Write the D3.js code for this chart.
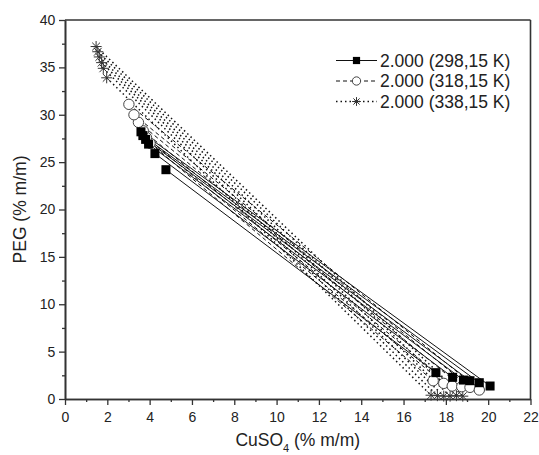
<!DOCTYPE html>
<html>
<head>
<meta charset="utf-8">
<script src="https://cdn.jsdelivr.net/npm/d3@7/dist/d3.min.js"></script>
<style>
  html, body { margin: 0; padding: 0; background: #fff; }
  svg { display: block; font-family: Arial, "Liberation Sans", sans-serif; }
</style>
</head>
<body>
<svg id="chart" width="539" height="455"></svg>
<script>
// ---- Data ----
const seriesNames = ["2.000 (298,15 K)", "2.000 (318,15 K)", "2.000 (338,15 K)"];
// 298,15 K tie lines: top phase (CuSO4, PEG) and bottom phase (CuSO4, PEG)
const top298 = [[4.77, 24.2], [4.25, 25.9], [3.95, 26.9], [3.81, 27.4], [3.68, 27.8], [3.59, 28.2]];
const bot298 = [[17.53, 2.78], [18.32, 2.29], [18.83, 2.0], [19.14, 1.93], [19.58, 1.72], [20.09, 1.37]];
// 318,15 K
const top318 = [[4.02, 27.0], [3.85, 27.6], [3.70, 28.3], [3.47, 29.2], [3.26, 30.0], [3.02, 31.1]];
const bot318 = [[17.4, 1.93], [17.9, 1.65], [18.3, 1.37], [18.75, 1.3], [19.14, 1.23], [19.58, 0.95]];
// 338,15 K
const top338 = [[1.97, 33.9], [1.81, 34.9], [1.73, 35.5], [1.62, 36.1], [1.55, 36.65], [1.47, 37.2]];
const bot338 = [[17.3, 0.4], [17.6, 0.35], [17.9, 0.3], [18.2, 0.3], [18.5, 0.35], [18.8, 0.3]];

const xTicks = [0, 2, 4, 6, 8, 10, 12, 14, 16, 18, 20, 22];
const xMinor = [1, 3, 5, 7, 9, 11, 13, 15, 17, 19, 21];
const yTicks = [0, 5, 10, 15, 20, 25, 30, 35, 40];
const yMinor = [2.5, 7.5, 12.5, 17.5, 22.5, 27.5, 32.5, 37.5];

// ---- Layout ----
const svg = d3.select("#chart");
const L = 65, R = 530.5, T = 20, B = 399;
const x = d3.scaleLinear().domain([0, 22]).range([L, R]);
const y = d3.scaleLinear().domain([0, 40]).range([B, T]);
const axisColor = "#333";

// frame top and right
svg.append("line").attr("x1", L).attr("x2", R).attr("y1", T).attr("y2", T)
  .attr("stroke", axisColor).attr("stroke-width", 1.6);
svg.append("line").attr("x1", R).attr("x2", R).attr("y1", T).attr("y2", B)
  .attr("stroke", axisColor).attr("stroke-width", 1.6);

// axes
const xAxis = svg.append("g").attr("transform", `translate(0,${B})`)
  .call(d3.axisBottom(x).tickValues(xTicks).tickFormat(d3.format("d")).tickSize(6).tickSizeOuter(0));
const xAxisMinor = svg.append("g").attr("transform", `translate(0,${B})`)
  .call(d3.axisBottom(x).tickValues(xMinor).tickFormat("").tickSize(3).tickSizeOuter(0));
const yAxis = svg.append("g").attr("transform", `translate(${L},0)`)
  .call(d3.axisLeft(y).tickValues(yTicks).tickFormat(d3.format("d")).tickSize(6).tickSizeOuter(0));
const yAxisMinor = svg.append("g").attr("transform", `translate(${L},0)`)
  .call(d3.axisLeft(y).tickValues(yMinor).tickFormat("").tickSize(3).tickSizeOuter(0));

[xAxis, xAxisMinor, yAxis, yAxisMinor].forEach(g => {
  g.select(".domain").attr("stroke", axisColor).attr("stroke-width", 1.6);
  g.selectAll(".tick line").attr("stroke", axisColor).attr("stroke-width", 1.3);
  g.selectAll(".tick text").attr("fill", "#222").style("font-size", "14px")
    .style("font-family", "Arial, 'Liberation Sans', sans-serif");
});
xAxis.selectAll(".tick text").attr("dy", "1.0em");
yAxis.selectAll(".tick text").attr("dx", "-0.05em");

// axis titles
svg.append("text").attr("x", (L + R) / 2).attr("y", 446).attr("text-anchor", "middle")
  .style("font-size", "17.5px").attr("fill", "#222")
  .html('CuSO<tspan baseline-shift="sub" font-size="11px">4</tspan> (% m/m)');
svg.append("text").attr("transform", `translate(26,${(T + B) / 2}) rotate(-90)`)
  .attr("text-anchor", "middle").style("font-size", "17.5px").attr("fill", "#222")
  .text("PEG (% m/m)");

// ---- tie lines ----
const series = [
  { top: top298, bot: bot298, dash: null, marker: "square" },
  { top: top318, bot: bot318, dash: "4,3", marker: "circle" },
  { top: top338, bot: bot338, dash: "1.5,3", marker: "star" }
];
const plot = svg.append("g");
const line = d3.line().x(d => x(d[0])).y(d => y(d[1]));

function drawMarker(g, type, cx, cy, s) {
  s = s || 1;
  if (type === "square") {
    g.append("rect").attr("x", cx - 4.5 * s).attr("y", cy - 4.5 * s).attr("width", 9 * s).attr("height", 9 * s)
      .attr("fill", "#000");
  } else if (type === "circle") {
    g.append("circle").attr("cx", cx).attr("cy", cy).attr("r", 5.2 * s)
      .attr("fill", "#fff").attr("stroke", "#444").attr("stroke-width", 1);
  } else {
    const r = 5.5 * s;
    const path = d3.path();
    for (let k = 0; k < 4; k++) {
      const a = k * Math.PI / 4;
      path.moveTo(cx - r * Math.cos(a), cy - r * Math.sin(a));
      path.lineTo(cx + r * Math.cos(a), cy + r * Math.sin(a));
    }
    g.append("path").attr("d", path.toString()).attr("stroke", "#333").attr("stroke-width", 1).attr("fill", "none");
  }
}

// draw lines first (reverse order so 298 on top)
series.slice().reverse().forEach(s => {
  s.top.forEach((tp, i) => {
    plot.append("path").attr("d", line([tp, s.bot[i]]))
      .attr("fill", "none").attr("stroke", "#111")
      .attr("stroke-width", s.marker === "star" ? 1.5 : 1)
      .attr("stroke-dasharray", s.dash);
  });
});
series.slice().reverse().forEach(s => {
  s.top.concat(s.bot).forEach(p => drawMarker(plot, s.marker, x(p[0]), y(p[1])));
});

// ---- legend ----
const legY = [60.5, 81, 101.5];
const lx1 = 336, lx2 = 377;
series.forEach((s, i) => {
  const g = svg.append("g");
  g.append("line").attr("x1", lx1).attr("x2", lx2).attr("y1", legY[i]).attr("y2", legY[i])
    .attr("stroke", "#111").attr("stroke-width", s.marker === "star" ? 1.5 : 1).attr("stroke-dasharray", s.dash);
  drawMarker(g, s.marker, (lx1 + lx2) / 2, legY[i], 0.8);
  g.append("text").attr("x", 380).attr("y", legY[i]).attr("dy", "0.36em")
    .style("font-size", "17.5px").attr("fill", "#222").text(seriesNames[i]);
});
</script>
</body>
</html>
